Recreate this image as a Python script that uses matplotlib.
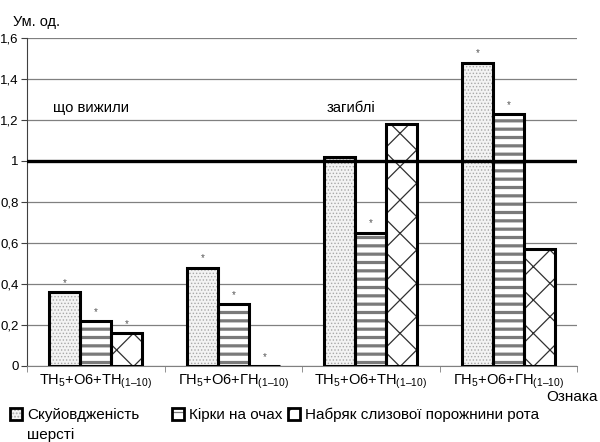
import matplotlib
matplotlib.use("Agg")
import matplotlib.pyplot as plt
import numpy as np
from matplotlib.patches import Patch
from matplotlib.legend_handler import HandlerTuple

plt.rcParams['font.family'] = ['Liberation Sans', 'DejaVu Sans']
plt.rcParams['mathtext.fontset'] = 'custom'
plt.rcParams['mathtext.rm'] = 'Liberation Sans'
plt.rcParams['mathtext.it'] = 'Liberation Sans'
plt.rcParams['mathtext.bf'] = 'Liberation Sans'

categories = [r'ТН$_5$+О6+ТН$_{\mathrm{(1–10)}}$',
              r'ГН$_5$+О6+ГН$_{\mathrm{(1–10)}}$',
              r'ТН$_5$+О6+ТН$_{\mathrm{(1–10)}}$',
              r'ГН$_5$+О6+ГН$_{\mathrm{(1–10)}}$']
series_names = ['Скуйовдженість', 'Кірки на очах', 'Набряк слизової порожнини рота']
fur = [0.36, 0.48, 1.02, 1.48]
eye_crusts = [0.22, 0.30, 0.65, 1.23]
mouth_edema = [0.16, 0.00, 1.18, 0.57]
# significance markers per series/group
fur_sig = [True, True, False, True]
eye_sig = [True, True, True, True]
mouth_sig = [True, True, False, False]
y_ticks = [0, 0.2, 0.4, 0.6, 0.8, 1.0, 1.2, 1.4, 1.6]
y_tick_labels = ['0', '0,2', '0,4', '0,6', '0,8', '1', '1,2', '1,4', '1,6']
reference_level = 1.0

fig = plt.figure(figsize=(6.0, 4.42), dpi=100)
ax = fig.add_axes([0.045, 0.172, 0.917, 0.742])

x = np.arange(len(categories))
w = 0.225
series = [fur, eye_crusts, mouth_edema]
sigs = [fur_sig, eye_sig, mouth_sig]
styles = [
    dict(face='#f3f3f3', hatch='.....', hcolor='#a8a8a8', hlw=0.6),
    dict(face='white', hatch='--', hcolor='#7a7a7a', hlw=2.3),
    dict(face='white', hatch='x', hcolor='#303030', hlw=0.9),
]

handles = []
for i, (vals, st, sg) in enumerate(zip(series, styles, sigs)):
    pos = x + (i - 1) * w
    plt.rcParams['hatch.linewidth'] = st['hlw']
    ax.bar(pos, vals, w, color=st['face'], edgecolor=st['hcolor'],
           hatch=st['hatch'], linewidth=0, zorder=2)
    ax.bar(pos, vals, w, facecolor='none', edgecolor='black',
           linewidth=2.2, zorder=3)
    for p, v, s in zip(pos, vals, sg):
        if s:
            ax.text(p, v + 0.045, '*', ha='center', va='center',
                    fontsize=7, color='#555555', zorder=4)
    hp = Patch(facecolor=st['face'], edgecolor=st['hcolor'], hatch=st['hatch'], linewidth=0)
    op = Patch(facecolor='none', edgecolor='black', linewidth=2.0)
    handles.append((hp, op))

ax.axhline(reference_level, color='black', linewidth=2.4, zorder=5)

ax.set_xlim(-0.5, len(categories) - 0.5)
ax.set_ylim(0, 1.6)
ax.set_yticks(y_ticks)
ax.set_yticklabels(y_tick_labels, fontsize=9.5)
ax.yaxis.grid(True, color='#808080', linewidth=0.9, zorder=0)
ax.set_axisbelow(True)
ax.set_xticks(x)
ax.set_xticklabels(categories, fontsize=10.5)
ax.tick_params(axis='x', length=0, pad=5)
ax.set_xticks(np.arange(len(categories) + 1) - 0.5, minor=True)
ax.tick_params(axis='x', which='minor', length=4, color='#808080')
ax.tick_params(axis='y', length=4, color='#404040', pad=2)
for side in ['top', 'right']:
    ax.spines[side].set_visible(False)
ax.spines['left'].set_color('#404040')
ax.spines['bottom'].set_color('#808080')

ax.text(-0.31, 1.26, 'що вижили', fontsize=10.7, va='center')
ax.text(1.675, 1.26, 'загиблі', fontsize=10.7, va='center')

fig.text(0.022, 1 - 22 / 442, 'Ум. од.', fontsize=10.5, va='center')
fig.text(0.997, 1 - 397 / 442, 'Ознака', fontsize=11, ha='right', va='center')

# one legend entry per box, placed side by side under the plot
legend_x = [10 / 600, 172 / 600, 288 / 600]
for hx, h, name in zip(legend_x, handles, series_names):
    fig.legend([h], [name], loc='upper left', bbox_to_anchor=(hx, 1 - 408 / 442),
               frameon=False, fontsize=11, handlelength=0.8, handleheight=0.8,
               handletextpad=0.3, borderpad=0, borderaxespad=0,
               handler_map={tuple: HandlerTuple(ndivide=1)})
fig.text(27 / 600, 1 - 435 / 442, 'шерсті', fontsize=11, va='center')

fig.savefig('out.png', dpi=100)
